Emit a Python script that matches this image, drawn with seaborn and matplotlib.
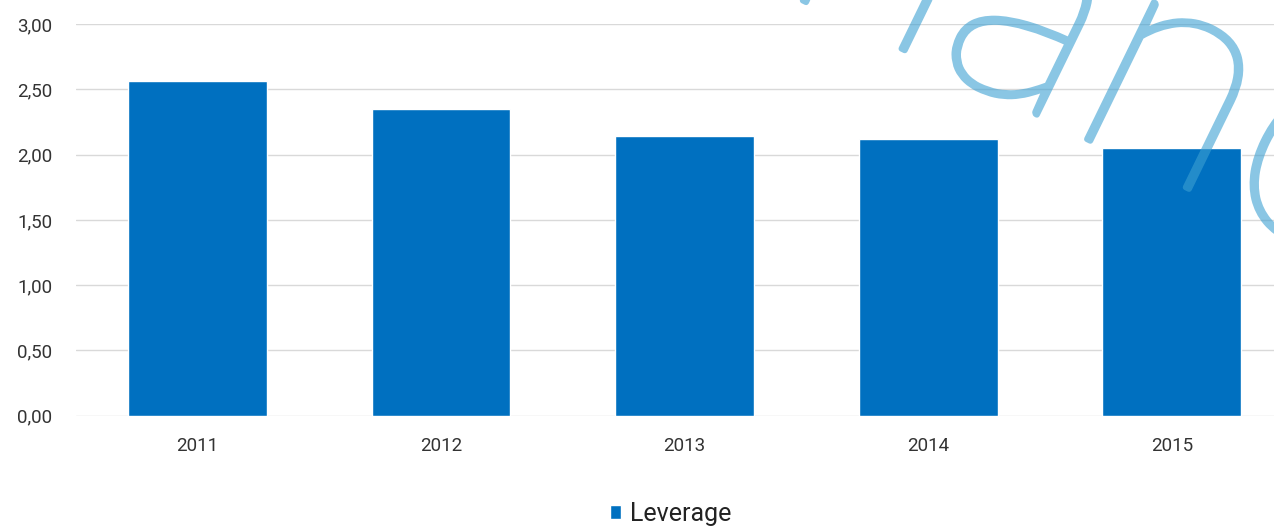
import matplotlib
matplotlib.use("Agg")
import matplotlib.pyplot as plt
import matplotlib.ticker as mticker
import matplotlib.patheffects as pe
from matplotlib.colors import to_rgba
import seaborn as sns
import pandas as pd

# Leverage ratio by year
years = ["2011", "2012", "2013", "2014", "2015"]
leverage = [2.56, 2.35, 2.14, 2.12, 2.05]
series_name = "Leverage"
y_ticks = [0.0, 0.5, 1.0, 1.5, 2.0, 2.5, 3.0]

BAR_COLOR = "#0070C0"
GRID_COLOR = "#d9d9d9"
TEXT_COLOR = "#333333"
MARK_COLOR = to_rgba("#3ca0d2", 0.6)

sns.set_theme(style="white")
plt.rcParams["font.family"] = ["Roboto", "DejaVu Sans"]

df = pd.DataFrame({"year": years, "value": leverage})

fig = plt.figure(figsize=(12.74, 5.31), dpi=100)
ax = fig.add_axes([0.0594, 0.2171, 0.956, 0.7377])

sns.barplot(data=df, x="year", y="value", color=BAR_COLOR, width=0.57,
            saturation=1, label=series_name, ax=ax, zorder=2)

ax.set_ylim(0, 3.0)
ax.set_yticks(y_ticks)
ax.yaxis.set_major_formatter(
    mticker.FuncFormatter(lambda v, _: f"{v:.2f}".replace(".", ",")))
ax.grid(axis="y", color=GRID_COLOR, linewidth=1.0, zorder=0)
ax.set_axisbelow(True)
for s in ax.spines.values():
    s.set_visible(False)
ax.set_xlabel("")
ax.set_ylabel("")
ax.tick_params(axis="both", length=0, labelsize=13.5, colors=TEXT_COLOR)
ax.tick_params(axis="y", pad=17)
ax.tick_params(axis="x", pad=15)

leg = ax.legend(loc="center", bbox_to_anchor=(671 / 1274, 0.032),
                bbox_transform=fig.transFigure, frameon=False, fontsize=18,
                handlelength=0.42, handleheight=0.45, handletextpad=0.38,
                borderpad=0)
for t in leg.get_texts():
    t.set_color("#222222")

# faint monoline watermark across the upper right
fig.text(777 / 1274, 1 + 12 / 531, "hano", rotation=-26, rotation_mode="anchor",
         ha="left", va="baseline", fontsize=224, family=["Lato", "DejaVu Sans"],
         fontweight="light", color="none", zorder=10,
         path_effects=[pe.Stroke(linewidth=4.2, foreground=MARK_COLOR)])

fig.savefig("out.png", dpi=100)
